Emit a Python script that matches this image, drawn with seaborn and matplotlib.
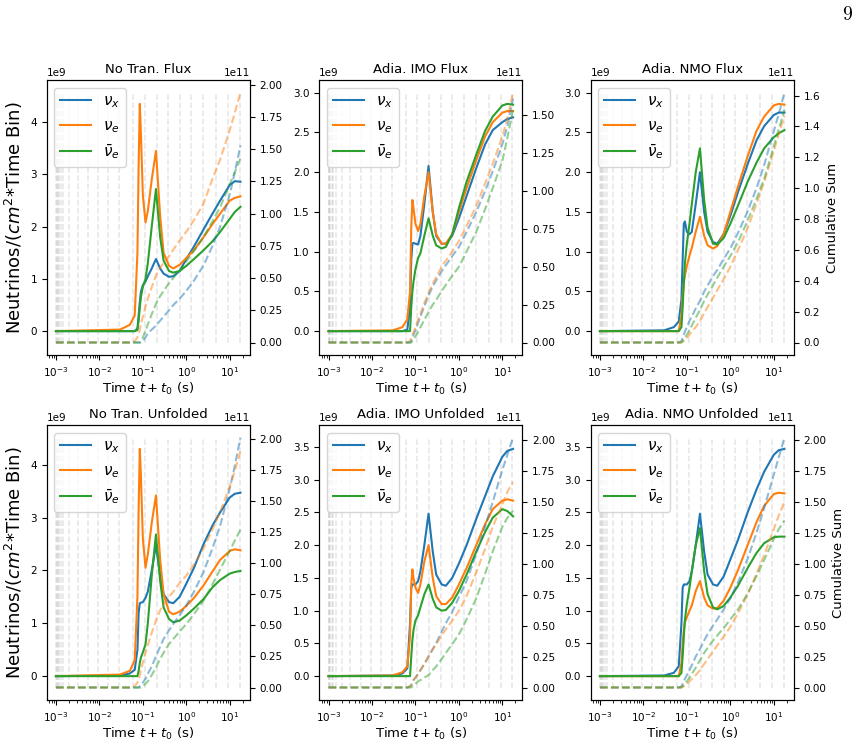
import numpy as np
import pandas as pd
import seaborn as sns
import matplotlib.pyplot as plt

# time grid (s) shared by every curve
time_s = [0.001, 0.03, 0.05, 0.065, 0.075, 0.08, 0.085, 0.09, 0.1, 0.115, 0.13, 0.16, 0.2,
          0.25, 0.3, 0.4, 0.5, 0.7, 1.0, 1.5, 2.5, 4, 6, 10, 13, 17.6]

# gray dashed markers of the time bins
bin_edges = [0.001, 0.00105, 0.0011, 0.0012, 0.0013, 0.00148, 0.002, 0.0032,
             0.0055, 0.0093, 0.016, 0.029, 0.06, 0.111, 0.206, 0.38, 0.71, 1.31, 2.44, 4.9, 9.1, 17.0]

# rates, units of 1e9 neutrinos / (cm^2 * time bin)
nt_flux_x = [0, 0, 0, 0, 0.05, 0.3, 0.55, 0.75, 0.88, 0.95, 1.05, 1.2, 1.38, 1.2, 1.1, 1.04, 1.05, 1.15, 1.38, 1.62, 1.95, 2.25, 2.5, 2.8, 2.87, 2.86]
nt_flux_e = [0, 0.03, 0.12, 0.3, 1.5, 3.2, 4.35, 3.8, 2.6, 2.08, 2.3, 2.9, 3.45, 2.2, 1.5, 1.25, 1.2, 1.27, 1.4, 1.55, 1.8, 2.05, 2.25, 2.5, 2.55, 2.58]
nt_flux_ebar = [0, 0, 0, 0, 0.02, 0.2, 0.45, 0.65, 0.85, 1.0, 1.3, 2.0, 2.72, 1.8, 1.35, 1.15, 1.12, 1.15, 1.25, 1.38, 1.55, 1.72, 1.9, 2.15, 2.28, 2.38]

imo_flux_x = [0, 0, 0, 0.02, 0.3, 0.9, 1.1, 1.11, 1.1, 1.09, 1.2, 1.6, 2.08, 1.5, 1.2, 1.1, 1.1, 1.2, 1.42, 1.7, 2.05, 2.35, 2.53, 2.63, 2.67, 2.69]
imo_flux_e = [0, 0.01, 0.05, 0.15, 0.5, 1.3, 1.65, 1.55, 1.35, 1.26, 1.35, 1.7, 2.0, 1.5, 1.22, 1.1, 1.1, 1.22, 1.5, 1.8, 2.15, 2.45, 2.63, 2.75, 2.77, 2.77]
imo_flux_ebar = [0, 0, 0, 0, 0, 0.3, 0.5, 0.62, 0.78, 0.92, 0.98, 1.2, 1.42, 1.2, 1.08, 1.04, 1.06, 1.22, 1.55, 1.88, 2.22, 2.52, 2.7, 2.84, 2.86, 2.85]

nmo_flux_x = [0, 0.01, 0.05, 0.12, 0.4, 0.9, 1.35, 1.38, 1.25, 1.22, 1.25, 1.6, 2.0, 1.5, 1.25, 1.12, 1.1, 1.22, 1.45, 1.75, 2.1, 2.4, 2.58, 2.72, 2.75, 2.75]
nmo_flux_e = [0, 0, 0, 0, 0.2, 0.45, 0.6, 0.7, 0.82, 0.95, 1.05, 1.25, 1.44, 1.2, 1.08, 1.04, 1.07, 1.22, 1.5, 1.82, 2.2, 2.52, 2.7, 2.84, 2.86, 2.85]
nmo_flux_ebar = [0, 0, 0, 0, 0.05, 0.3, 0.6, 0.85, 1.1, 1.35, 1.6, 2.0, 2.3, 1.65, 1.3, 1.1, 1.09, 1.17, 1.35, 1.58, 1.88, 2.12, 2.3, 2.44, 2.49, 2.53]

nt_unf_x = [0, 0.01, 0.05, 0.12, 0.5, 1.2, 1.38, 1.39, 1.4, 1.48, 1.6, 2.0, 2.48, 1.9, 1.55, 1.4, 1.38, 1.5, 1.75, 2.05, 2.5, 2.85, 3.1, 3.38, 3.45, 3.47]
nt_unf_e = [0, 0.03, 0.1, 0.3, 1.5, 3.2, 4.3, 3.8, 2.6, 2.05, 2.3, 2.9, 3.42, 2.2, 1.55, 1.22, 1.17, 1.22, 1.33, 1.48, 1.72, 1.98, 2.2, 2.37, 2.4, 2.38]
nt_unf_ebar = [0, 0, 0, 0, 0, 0.1, 0.25, 0.35, 0.45, 0.6, 1.0, 1.9, 2.68, 1.8, 1.3, 1.08, 1.02, 1.05, 1.15, 1.28, 1.46, 1.68, 1.82, 1.94, 1.97, 1.99]

imo_unf_x = [0, 0.01, 0.04, 0.12, 0.8, 1.35, 1.4, 1.4, 1.4, 1.45, 1.6, 2.0, 2.48, 1.9, 1.55, 1.4, 1.38, 1.5, 1.72, 2.0, 2.4, 2.75, 3.05, 3.35, 3.44, 3.47]
imo_unf_e = [0, 0.01, 0.06, 0.15, 0.6, 1.4, 1.63, 1.5, 1.35, 1.27, 1.4, 1.75, 2.0, 1.5, 1.22, 1.1, 1.1, 1.2, 1.4, 1.65, 2.0, 2.32, 2.55, 2.68, 2.7, 2.68]
imo_unf_ebar = [0, 0, 0, 0, 0, 0.3, 0.55, 0.7, 0.85, 0.93, 1.05, 1.25, 1.4, 1.18, 1.05, 1.0, 1.01, 1.12, 1.3, 1.55, 1.9, 2.2, 2.42, 2.55, 2.52, 2.44]

nmo_unf_x = [0, 0.01, 0.05, 0.15, 0.8, 1.35, 1.4, 1.4, 1.4, 1.45, 1.6, 2.0, 2.48, 1.9, 1.55, 1.4, 1.38, 1.52, 1.78, 2.08, 2.5, 2.85, 3.12, 3.38, 3.45, 3.47]
nmo_unf_e = [0, 0, 0, 0, 0.2, 0.5, 0.7, 0.82, 0.9, 1.0, 1.08, 1.3, 1.45, 1.2, 1.08, 1.03, 1.04, 1.15, 1.35, 1.62, 2.0, 2.35, 2.6, 2.78, 2.8, 2.79]
nmo_unf_ebar = [0, 0, 0, 0, 0.05, 0.3, 0.6, 0.85, 1.1, 1.35, 1.6, 2.0, 2.26, 1.6, 1.25, 1.05, 1.02, 1.07, 1.2, 1.38, 1.65, 1.88, 2.03, 2.12, 2.13, 2.13]

# cumulative sums, units of 1e11
nt_flux_x_cum = [0, 0, 0, 0, 0, 0, 0, 0, 0.01, 0.04, 0.07, 0.1, 0.13, 0.17, 0.2, 0.25, 0.29, 0.34, 0.4, 0.48, 0.6, 0.75, 0.9, 1.15, 1.32, 1.53]
nt_flux_e_cum = [0, 0, 0, 0.01, 0.04, 0.07, 0.1, 0.14, 0.2, 0.28, 0.34, 0.43, 0.52, 0.58, 0.62, 0.67, 0.72, 0.79, 0.86, 0.95, 1.08, 1.27, 1.42, 1.65, 1.78, 1.94]
nt_flux_ebar_cum = [0, 0, 0, 0, 0, 0, 0, 0.01, 0.04, 0.09, 0.14, 0.22, 0.3, 0.36, 0.4, 0.46, 0.5, 0.56, 0.63, 0.71, 0.82, 0.94, 1.05, 1.23, 1.32, 1.43]

imo_flux_x_cum = [0, 0, 0, 0, 0, 0.01, 0.03, 0.05, 0.08, 0.13, 0.17, 0.24, 0.31, 0.37, 0.41, 0.47, 0.51, 0.57, 0.63, 0.73, 0.86, 1.0, 1.13, 1.31, 1.43, 1.61]
imo_flux_e_cum = [0, 0, 0, 0, 0.01, 0.03, 0.05, 0.07, 0.1, 0.15, 0.19, 0.26, 0.33, 0.39, 0.43, 0.5, 0.54, 0.6, 0.67, 0.77, 0.9, 1.05, 1.18, 1.36, 1.48, 1.65]
imo_flux_ebar_cum = [0, 0, 0, 0, 0, 0, 0.01, 0.02, 0.04, 0.07, 0.1, 0.15, 0.2, 0.25, 0.28, 0.34, 0.38, 0.44, 0.5, 0.6, 0.73, 0.88, 1.02, 1.2, 1.35, 1.54]

nmo_flux_x_cum = [0, 0, 0, 0, 0.01, 0.03, 0.05, 0.07, 0.1, 0.14, 0.17, 0.22, 0.27, 0.33, 0.37, 0.43, 0.47, 0.54, 0.61, 0.71, 0.85, 1.0, 1.15, 1.37, 1.48, 1.62]
nmo_flux_e_cum = [0, 0, 0, 0, 0, 0.005, 0.01, 0.02, 0.03, 0.05, 0.07, 0.1, 0.14, 0.19, 0.23, 0.29, 0.34, 0.41, 0.49, 0.6, 0.74, 0.9, 1.04, 1.24, 1.35, 1.47]
nmo_flux_ebar_cum = [0, 0, 0, 0, 0, 0.01, 0.02, 0.03, 0.05, 0.08, 0.11, 0.16, 0.21, 0.27, 0.31, 0.37, 0.42, 0.49, 0.56, 0.65, 0.79, 0.93, 1.06, 1.27, 1.38, 1.51]

nt_unf_x_cum = [0, 0, 0, 0, 0, 0, 0.01, 0.02, 0.04, 0.07, 0.11, 0.17, 0.25, 0.33, 0.39, 0.46, 0.51, 0.58, 0.66, 0.77, 0.93, 1.12, 1.3, 1.6, 1.78, 2.01]
nt_unf_e_cum = [0, 0, 0, 0.01, 0.04, 0.07, 0.1, 0.14, 0.2, 0.28, 0.34, 0.44, 0.54, 0.62, 0.67, 0.73, 0.77, 0.84, 0.9, 0.99, 1.12, 1.27, 1.41, 1.62, 1.74, 1.9]
nt_unf_ebar_cum = [0, 0, 0, 0, 0, 0, 0, 0, 0.01, 0.03, 0.05, 0.1, 0.16, 0.23, 0.28, 0.35, 0.39, 0.45, 0.51, 0.59, 0.7, 0.83, 0.95, 1.1, 1.18, 1.27]

imo_unf_x_cum = [0, 0, 0, 0, 0.01, 0.02, 0.04, 0.06, 0.08, 0.11, 0.14, 0.19, 0.25, 0.31, 0.36, 0.45, 0.52, 0.61, 0.73, 0.86, 1.08, 1.3, 1.5, 1.76, 1.88, 2.02]
imo_unf_e_cum = [0, 0, 0, 0, 0.01, 0.02, 0.04, 0.06, 0.08, 0.11, 0.14, 0.19, 0.25, 0.31, 0.35, 0.42, 0.47, 0.54, 0.62, 0.74, 0.93, 1.12, 1.3, 1.48, 1.58, 1.66]
imo_unf_ebar_cum = [0, 0, 0, 0, 0, 0, 0.01, 0.02, 0.03, 0.05, 0.06, 0.08, 0.1, 0.14, 0.17, 0.23, 0.28, 0.35, 0.43, 0.55, 0.72, 0.92, 1.1, 1.3, 1.37, 1.43]

nmo_unf_x_cum = [0, 0, 0, 0, 0.01, 0.03, 0.05, 0.07, 0.1, 0.14, 0.18, 0.25, 0.31, 0.38, 0.43, 0.5, 0.55, 0.63, 0.72, 0.85, 1.04, 1.25, 1.45, 1.72, 1.86, 2.02]
nmo_unf_e_cum = [0, 0, 0, 0, 0, 0.005, 0.01, 0.02, 0.03, 0.05, 0.07, 0.1, 0.14, 0.19, 0.23, 0.29, 0.34, 0.41, 0.49, 0.6, 0.75, 0.92, 1.07, 1.28, 1.39, 1.5]
nmo_unf_ebar_cum = [0, 0, 0, 0, 0, 0.01, 0.02, 0.03, 0.05, 0.08, 0.11, 0.16, 0.22, 0.28, 0.32, 0.38, 0.42, 0.48, 0.55, 0.63, 0.76, 0.9, 1.03, 1.2, 1.28, 1.35]

titles = ["No Tran. Flux", "Adia. IMO Flux", "Adia. NMO Flux",
          "No Tran. Unfolded", "Adia. IMO Unfolded", "Adia. NMO Unfolded"]
flavors = [r"$\nu_x$", r"$\nu_e$", r"$\bar{\nu}_e$"]
colors = ["#1f77b4", "#ff7f0e", "#2ca02c"]

rates = [(nt_flux_x, nt_flux_e, nt_flux_ebar), (imo_flux_x, imo_flux_e, imo_flux_ebar),
         (nmo_flux_x, nmo_flux_e, nmo_flux_ebar), (nt_unf_x, nt_unf_e, nt_unf_ebar),
         (imo_unf_x, imo_unf_e, imo_unf_ebar), (nmo_unf_x, nmo_unf_e, nmo_unf_ebar)]
cums = [(nt_flux_x_cum, nt_flux_e_cum, nt_flux_ebar_cum), (imo_flux_x_cum, imo_flux_e_cum, imo_flux_ebar_cum),
        (nmo_flux_x_cum, nmo_flux_e_cum, nmo_flux_ebar_cum), (nt_unf_x_cum, nt_unf_e_cum, nt_unf_ebar_cum),
        (imo_unf_x_cum, imo_unf_e_cum, imo_unf_ebar_cum), (nmo_unf_x_cum, nmo_unf_e_cum, nmo_unf_ebar_cum)]


def long_frame(series, scale):
    parts = []
    for name, vals in zip(flavors, series):
        parts.append(pd.DataFrame({"time": time_s, "value": np.array(vals) * scale, "flavor": name}))
    return pd.concat(parts, ignore_index=True)


W, H = 858, 747
fig = plt.figure(figsize=(W / 100, H / 100), dpi=100)
lefts = [46.7, 319.3, 590.7]
rows = [(80, 355), (425, 700)]

for i in range(6):
    r, c = divmod(i, 3)
    top, bot = rows[r]
    ax = fig.add_axes([lefts[c] / W, 1 - bot / H, 203 / W, (bot - top) / H])

    sns.lineplot(data=long_frame(rates[i], 1e9), x="time", y="value", hue="flavor",
                 palette=colors, errorbar=None, lw=1.5, ax=ax)
    ax.set_xscale("log")
    y0, y1 = ax.get_ylim()
    ax.vlines(bin_edges, y0, y1, colors="gray", linestyles="--", lw=1.1, alpha=0.2, zorder=0)
    ax.legend(loc="upper left", fontsize=11)

    ax2 = ax.twinx()
    sns.lineplot(data=long_frame(cums[i], 1e11), x="time", y="value", hue="flavor",
                 palette=colors, errorbar=None, lw=1.5, linestyle="--", alpha=0.5,
                 legend=False, ax=ax2)

    ax.set_title(titles[i], fontsize=9.5, pad=5)
    ax.set_xlabel(r"Time $t + t_0$ (s)", fontsize=9.5, labelpad=2)
    ax.set_ylabel(r"Neutrinos/$(cm^2$*Time Bin)" if c == 0 else "", fontsize=13)
    ax2.set_ylabel("Cumulative Sum" if c == 2 else "", fontsize=9.5)
    for a in (ax, ax2):
        a.tick_params(labelsize=7.5)
        a.yaxis.get_offset_text().set_fontsize(7.5)

fig.text(852 / W, 1 - 6 / H, "9", family="cmr10", fontsize=14, ha="right", va="top")
fig.savefig("out.png", dpi=100)
